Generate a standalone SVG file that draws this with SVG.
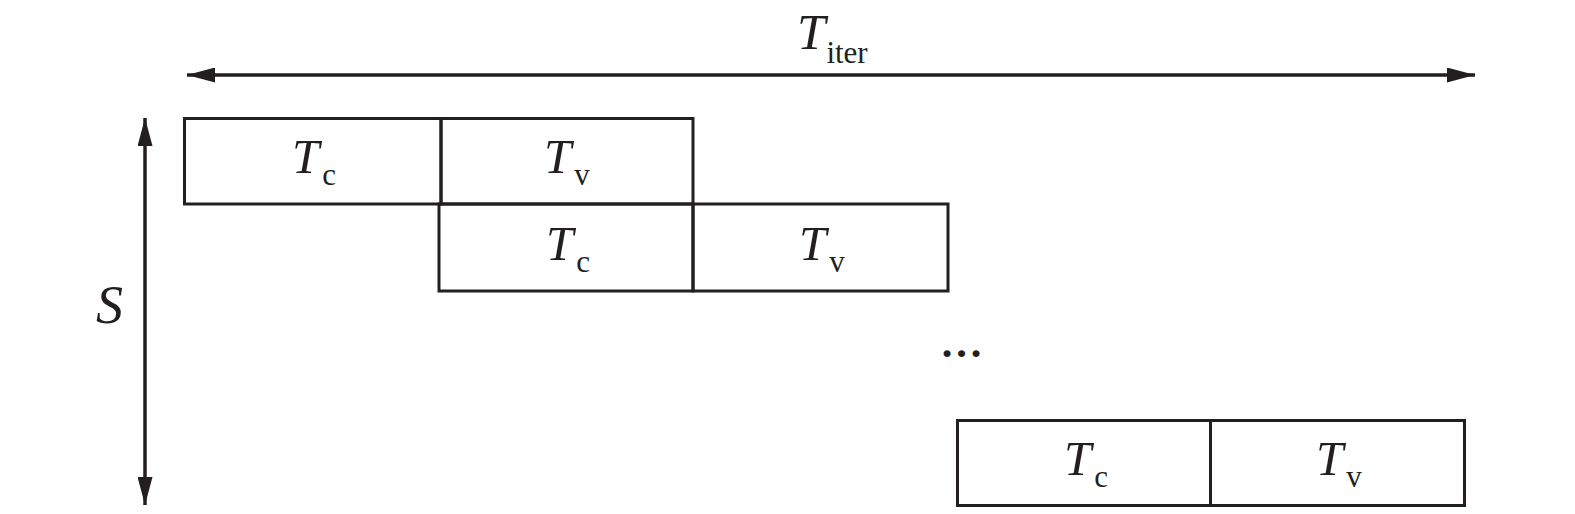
<svg xmlns="http://www.w3.org/2000/svg" width="1575" height="514" viewBox="0 0 1575 514">
<style>
.box{fill:none;stroke:#231f20;stroke-width:3;stroke-linecap:square}
.ln{stroke:#231f20;stroke-width:3.5;fill:none}
.t{font-family:"Liberation Serif","Times New Roman",serif;fill:#231f20}
.it{font-style:italic;font-size:49px}
.sub{font-style:normal;font-size:31px}
</style>
<defs>
<marker id="ah" viewBox="0 0 28 15" refX="28" refY="7.5" markerWidth="28" markerHeight="15" markerUnits="userSpaceOnUse" orient="auto-start-reverse">
<path d="M0,0 L28,7.5 L0,15 Z" fill="#231f20"/>
</marker>
</defs>
<rect width="1575" height="514" fill="#fff"/>
<g id="connectors">
<line class="ln" x1="187" y1="75" x2="1475" y2="75" marker-start="url(#ah)" marker-end="url(#ah)"/>
<line class="ln" x1="145" y1="118" x2="145" y2="505" marker-start="url(#ah)" marker-end="url(#ah)"/>
</g>
<g id="label-titer"><text class="t" x="797" y="49"><tspan class="it" style="font-size:51px">T</tspan><tspan class="sub" dx="1" dy="14">iter</tspan></text></g>
<g id="label-s"><text class="t it" x="96" y="323" style="font-size:54px">S</text></g>
<g id="row1">
<rect class="box" x="184.5" y="118.5" width="256.5" height="85.5"/>
<rect class="box" x="441" y="118.5" width="252" height="85.5"/>
<text class="t" x="292" y="173"><tspan class="it">T</tspan><tspan class="sub" dx="3" dy="12">c</tspan></text>
<text class="t" x="544" y="173"><tspan class="it">T</tspan><tspan class="sub" dx="3" dy="12">v</tspan></text>
</g>
<g id="row2">
<rect class="box" x="439" y="204" width="254" height="87"/>
<rect class="box" x="693" y="204" width="255" height="87"/>
<text class="t" x="546" y="260"><tspan class="it">T</tspan><tspan class="sub" dx="3" dy="12">c</tspan></text>
<text class="t" x="799" y="260"><tspan class="it">T</tspan><tspan class="sub" dx="3" dy="12">v</tspan></text>
</g>
<g id="ellipsis"><text class="t" x="940" y="357" style="font-size:43px;font-weight:bold">…</text></g>
<g id="row3">
<rect class="box" x="957.5" y="420.5" width="253" height="85"/>
<rect class="box" x="1210.5" y="420.5" width="254" height="85"/>
<text class="t" x="1064" y="475"><tspan class="it">T</tspan><tspan class="sub" dx="3" dy="12">c</tspan></text>
<text class="t" x="1316" y="475"><tspan class="it">T</tspan><tspan class="sub" dx="3" dy="12">v</tspan></text>
</g>
</svg>
